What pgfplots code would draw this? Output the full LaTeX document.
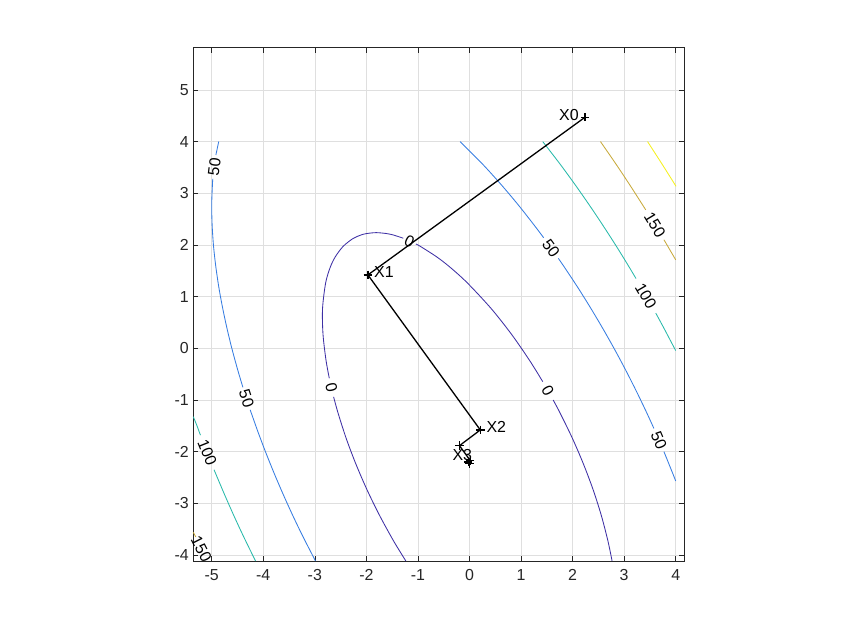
\documentclass[border=0pt]{standalone}
\usepackage{fontspec}
\setmainfont{Liberation Sans}
\usepackage{pgfplots}
\pgfplotsset{compat=1.18}
\definecolor{axc}{RGB}{38,38,38}
\definecolor{gridc}{RGB}{223,223,223}
\definecolor{c0}{RGB}{62,48,165}
\definecolor{c50}{RGB}{55,125,225}
\definecolor{c100}{RGB}{40,185,170}
\definecolor{c150}{RGB}{200,170,60}
\definecolor{c200}{RGB}{245,240,30}
\newcommand{\lbl}{\fontsize{16}{18}\selectfont}

\begin{document}
\begin{tikzpicture}
\useasboundingbox (-193.3bp,-71bp) rectangle (655.7bp,561bp);
\begin{axis}[
  scale only axis, width=491bp, height=513.3bp,
  xmin=-5.357, xmax=4.167, ymin=-4.116, ymax=5.817,
  xtick={-5,-4,-3,-2,-1,0,1,2,3,4},
  ytick={-4,-3,-2,-1,0,1,2,3,4,5},
  xticklabels={-5,-4,-3,-2,-1,0,1,2,3,4},
  yticklabels={-4,-3,-2,-1,0,1,2,3,4,5},
  tick align=inside, tick pos=both, major tick length=5bp,
  grid=major, major grid style={gridc, line width=0.6bp},
  axis line style={axc, line width=0.6bp},
  tick style={axc, line width=0.6bp},
  ticklabel style={font=\lbl, text=axc},
  xticklabel style={yshift=-5bp},
  yticklabel style={xshift=-1bp},
  clip=false,
]
% level 0
\addplot[c0, line width=0.85bp, smooth] coordinates {
(-1.234,-4.116) (-1.471,-3.73) (-1.746,-3.23) (-1.991,-2.73) (-2.207,-2.23)
(-2.396,-1.73) (-2.556,-1.23) (-2.635,-0.94)};
\addplot[c0, line width=0.85bp, smooth] coordinates {
(-2.719,-0.58) (-2.783,-0.23) (-2.841,0.27) (-2.850,0.77) (-2.789,1.27)
(-2.700,1.57) (-2.603,1.77) (-2.453,1.97) (-2.265,2.12) (-2.111,2.19)
(-1.997,2.22) (-1.81,2.238) (-1.607,2.22) (-1.469,2.19) (-1.284,2.13)};
\addplot[c0, line width=0.85bp, smooth] coordinates {
(-1.041,2.02) (-0.949,1.97) (-0.637,1.77) (-0.378,1.57) (-0.046,1.27)
(0.420,0.77) (0.816,0.27) (1.163,-0.23) (1.421,-0.645)};
\addplot[c0, line width=0.85bp, smooth] coordinates {
(1.623,-1.0) (1.746,-1.23) (1.991,-1.73) (2.207,-2.23) (2.396,-2.73)
(2.556,-3.23) (2.686,-3.73) (2.766,-4.116)};
% level 50, right
\addplot[c50, line width=0.85bp, smooth] coordinates {
(-0.182,4.0) (0.248,3.57) (0.612,3.17) (0.950,2.77) (1.265,2.37) (1.438,2.14)};
\addplot[c50, line width=0.85bp, smooth] coordinates {
(1.724,1.74) (1.841,1.57) (2.106,1.17) (2.356,0.77) (2.594,0.37) (2.820,-0.03)
(3.034,-0.43) (3.237,-0.83) (3.430,-1.23) (3.577,-1.55)};
\addplot[c50, line width=0.85bp, smooth] coordinates {
(3.772,-2.0) (3.946,-2.43) (4.0,-2.568)};
% level 50, left
\addplot[c50, line width=0.85bp] coordinates {(-4.864,4.0) (-4.919,3.74)};
\addplot[c50, line width=0.85bp, smooth] coordinates {
(-4.978,3.28) (-4.986,3.17) (-5.000,2.77) (-4.991,2.37) (-4.964,1.97)
(-4.919,1.57) (-4.860,1.17) (-4.786,0.77) (-4.700,0.37) (-4.602,-0.03)
(-4.492,-0.43) (-4.395,-0.755)};
\addplot[c50, line width=0.85bp, smooth] coordinates {
(-4.254,-1.19) (-4.098,-1.63) (-3.946,-2.03) (-3.784,-2.43) (-3.612,-2.83)
(-3.430,-3.23) (-3.237,-3.63) (-2.987,-4.116)};
% level 100
\addplot[c100, line width=0.85bp, smooth] coordinates {
(1.421,4.0) (1.753,3.57) (2.046,3.17) (2.326,2.77) (2.594,2.37) (2.852,1.97)
(3.099,1.57) (3.230,1.35)};
\addplot[c100, line width=0.85bp, smooth] coordinates {
(3.614,0.68) (3.782,0.37) (4.0,-0.045)};
\addplot[c100, line width=0.85bp, smooth] coordinates {
(-5.357,-1.324) (-5.293,-1.48) (-5.237,-1.63) (-5.218,-1.68)};
\addplot[c100, line width=0.85bp, smooth] coordinates {
(-4.954,-2.35) (-4.921,-2.43) (-4.751,-2.83) (-4.574,-3.23) (-4.388,-3.63)
(-4.150,-4.116)};
% level 150
\addplot[c150, line width=0.85bp, smooth] coordinates {
(2.541,4.0) (2.838,3.57) (3.104,3.17) (3.361,2.77) (3.418,2.68)};
\addplot[c150, line width=0.85bp, smooth] coordinates {
(3.772,2.10) (3.849,1.97) (4.0,1.712)};
\addplot[c150, line width=0.85bp] coordinates {(-5.357,-3.561) (-5.309,-3.65)};
% level 200
\addplot[c200, line width=0.85bp, smooth] coordinates {
(3.454,4.0) (3.732,3.57) (3.984,3.17) (4.0,3.143)};

% contour labels
\node[font=\lbl, rotate=-25] at (-1.163,2.075) {0};
\node[font=\lbl, rotate=-77] at (-2.677,-0.76) {0};
\node[font=\lbl, rotate=-61] at (1.522,-0.82) {0};
\node[font=\lbl, rotate=83] at (-4.949,3.51) {50};
\node[font=\lbl, rotate=-72] at (-4.325,-0.97) {50};
\node[font=\lbl, rotate=-54] at (1.581,1.94) {50};
\node[font=\lbl, rotate=-67] at (3.675,-1.775) {50};
\node[font=\lbl, rotate=-68] at (-5.086,-2.015) {100};
\node[font=\lbl, rotate=-60] at (3.422,1.015) {100};
\node[font=\lbl, rotate=-59] at (3.595,2.39) {150};
\node[font=\lbl, rotate=-63] at (-5.2,-3.88) {150};

% descent path
\addplot[black, line width=1.3bp, mark=+, mark size=4.2bp,
  mark options={line width=1.2bp}] coordinates {
(2.24,4.47) (-1.97,1.42) (0.21,-1.58) (-0.194,-1.884) (0.015,-2.172)
(-0.023,-2.201) (-0.003,-2.229) (-0.007,-2.232)};
\node[font=\lbl] at (1.93,4.52) {X0};
\node[font=\lbl] at (-1.66,1.47) {X1};
\node[font=\lbl] at (0.52,-1.52) {X2};
\node[font=\lbl] at (-0.14,-2.06) {X3};
\end{axis}
\end{tikzpicture}
\end{document}
